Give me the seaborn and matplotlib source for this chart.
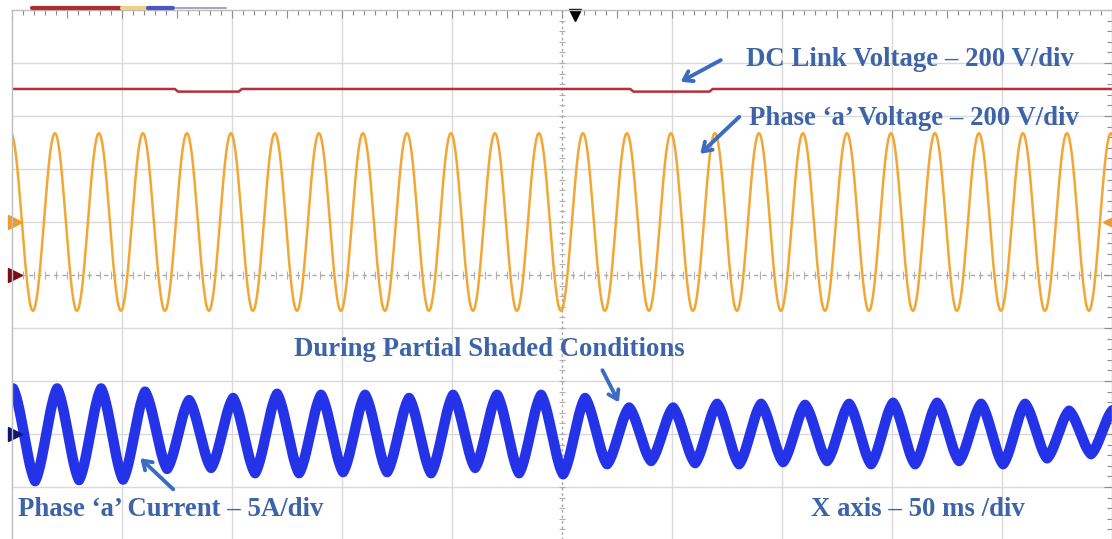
import numpy as np
import pandas as pd
import matplotlib.pyplot as plt
import seaborn as sns
from matplotlib.lines import Line2D

# scope settings
ms_per_div = 50
v_per_div = 200
a_per_div = 5
period_ms = 20          # 50 Hz grid
n_xdiv, n_ydiv = 10, 10

# zero reference of each channel (divisions from screen centre)
ref_dc = 0
ref_va = 1
ref_ia = -3

# DC link voltage (V) and its two small sags (ms)
dc_level = 702
dc_sag = 692
dc_sag_start = [74, 281]
dc_sag_end = [103, 317]

# phase 'a' voltage
va_peak = 335           # V
va_first_peak = -0.5    # ms

# phase 'a' current: positive / negative peak of each cycle (A)
ia_pos = [4.3, 4.3, 4.3, 4.0, 3.2, 3.4, 3.8, 3.7, 3.7, 3.4, 3.7, 3.7, 3.7,
          3.4, 2.5, 2.5, 2.85, 2.85, 2.75, 2.85, 2.95, 2.95, 2.85, 2.85, 2.2, 2.3]
ia_neg = [-4.45, -4.35, -4.3, -3.3, -3.2, -3.7, -3.7, -3.6, -3.6, -3.7, -3.2,
          -3.7, -3.8, -2.85, -2.55, -2.75, -2.85, -2.65, -2.55, -2.85, -2.85,
          -2.55, -2.85, -2.3, -1.9]
ia_first_peak = 0.5     # ms

red = "#b5303a"
orange = "#f2a735"
blue = "#2433e8"
note_blue = "#3d64a8"
grid_c = "#d9d9d9"


def half_waves(t0, values, n=40, sharp=0.0):
    # join successive peaks with half-cosine swings (sharp > 0 makes tips pointier)
    ts, ys = [], []
    for i in range(len(values) - 1):
        s = np.linspace(0, 1, n, endpoint=False)
        a, b = values[i], values[i + 1]
        shape = (1 - sharp) * np.cos(np.pi * s) + sharp * (1 - 2 * s)
        ts.append(t0 + (i + s) * period_ms / 2)
        ys.append((a + b) / 2 + (a - b) / 2 * shape)
    return np.concatenate(ts), np.concatenate(ys)


# phase voltage trace
va_ext = [va_peak * (-1) ** (k + 1) for k in range(54)]
t_va, v_va = half_waves(va_first_peak - period_ms / 2, va_ext)
va_df = pd.DataFrame({"t": t_va, "div": v_va / v_per_div + ref_va})

# phase current trace
ia_ext = [ia_neg[0]]
for p, q in zip(ia_pos, ia_neg):
    ia_ext += [p, q]
ia_ext.append(ia_pos[-1])
t_ia, v_ia = half_waves(ia_first_peak - period_ms / 2, ia_ext, sharp=0.45)
ia_df = pd.DataFrame({"t": t_ia, "div": v_ia / a_per_div + ref_ia})

# dc link trace
t_dc, v_dc = [0], [dc_level]
for s, e in zip(dc_sag_start, dc_sag_end):
    t_dc += [s, s + 1.5, e, e + 1.5]
    v_dc += [dc_level, dc_sag, dc_sag, dc_level]
t_dc.append(ms_per_div * n_xdiv)
v_dc.append(dc_level)
dc_df = pd.DataFrame({"t": t_dc, "div": np.array(v_dc) / v_per_div + ref_dc})

sns.set_style("white")
fig = plt.figure(figsize=(11.12, 5.39), dpi=100)
ax = fig.add_axes([12 / 1112, -1 / 539, 1100 / 1112, 530 / 539])

t_end = ms_per_div * n_xdiv
ax.set_xlim(0, t_end)
ax.set_ylim(-n_ydiv / 2, n_ydiv / 2)

# graticule
for k in range(1, n_xdiv):
    if k != n_xdiv // 2:
        ax.axvline(k * ms_per_div, color=grid_c, lw=1, zorder=0)
for k in range(-n_ydiv // 2 + 1, n_ydiv // 2):
    if k != 0:
        ax.axhline(k, color=grid_c, lw=1, zorder=0)
ax.axvline(t_end / 2, color="#a8a8a8", lw=1, ls=(0, (2, 2)), zorder=0)
ax.axhline(0, color="#a8a8a8", lw=1, ls=(0, (3, 3)), zorder=0)
ax.vlines(np.arange(0, t_end + 0.1, ms_per_div / 10), -0.07, 0.07,
          color="#b0b0b0", lw=0.8, zorder=0)
ax.hlines(np.arange(-5, 5.01, 0.2), t_end / 2 - 1.5, t_end / 2 + 1.5,
          color="#b0b0b0", lw=0.8, zorder=0)

ax.set_xticks(np.arange(0, t_end + 0.1, ms_per_div / 2))
ax.set_xticks(np.arange(0, t_end + 0.1, ms_per_div / 10), minor=True)
ax.set_yticks(np.arange(-5, 5.01, 1))
ax.set_yticks(np.arange(-5, 5.01, 0.2), minor=True)
ax.tick_params(which="both", direction="in", top=True, right=True,
               labelbottom=False, labelleft=False, color="#8c8c8c", width=0.8)
ax.tick_params(which="major", length=6)
ax.tick_params(which="minor", length=3.5)
for sp in ax.spines.values():
    sp.set_color("#bdbdbd")
    sp.set_linewidth(1)

# traces
sns.lineplot(data=dc_df, x="t", y="div", ax=ax, color=red, lw=1.8,
             estimator=None, sort=False)
sns.lineplot(data=va_df, x="t", y="div", ax=ax, color=orange, lw=1.8,
             estimator=None, sort=False)
sns.lineplot(data=ia_df, x="t", y="div", ax=ax, color=blue, lw=7.5,
             estimator=None, sort=False, solid_joinstyle="round")
ax.set_xlabel("")
ax.set_ylabel("")

# channel reference markers and trigger marker
ax.plot([1.2], [ref_va], marker=">", ms=10, color="#ef9a2c", clip_on=False)
ax.plot([1.2], [ref_dc], marker=">", ms=10, color="#7d0d12", clip_on=False)
ax.plot([1.2], [ref_ia], marker=">", ms=10, color="#141470", clip_on=False)
ax.plot([t_end - 1], [ref_va], marker="<", ms=10, color="#ef9a2c", clip_on=False)
ax.plot([256], [4.9], marker="v", ms=9, color="black", clip_on=False)

# status strip at the very top of the screen
for x0, x1, c, w in [(32, 120, "#b22a32", 3), (122, 146, "#f3cf84", 3),
                     (148, 173, "#4a56c8", 3), (176, 226, "#a8a8b8", 1.5)]:
    fig.add_artist(Line2D([x0 / 1112, x1 / 1112], [1 - 8 / 539] * 2,
                          color=c, lw=w))

# annotations
note_kw = dict(color=note_blue, fontsize=19.3, fontweight="bold",
               family="Liberation Serif", va="center", ha="left")
arrow_kw = dict(arrowstyle="->,head_length=0.6,head_width=0.4",
                color="#3b6cc0", lw=2.8)

ax.annotate("", xy=(302.8, 3.62), xytext=(323.3, 4.08), arrowprops=arrow_kw)
ax.text(333.8, 4.06, "DC Link Voltage – 200 V/div", **note_kw)
ax.annotate("", xy=(311.9, 2.25), xytext=(331.5, 3.02), arrowprops=arrow_kw)
ax.text(335.2, 2.96, "Phase ‘a’ Voltage – 200 V/div", **note_kw)
ax.annotate("", xy=(276.4, -2.45), xytext=(267.8, -1.75), arrowprops=arrow_kw)
ax.text(128, -1.41, "During Partial Shaded Conditions", **note_kw)
ax.annotate("", xy=(57.4, -3.42), xytext=(74.2, -4.08), arrowprops=arrow_kw)
ax.text(2.7, -4.43, "Phase ‘a’ Current – 5A/div", **note_kw)
ax.text(363.4, -4.43, "X axis – 50 ms /div", **note_kw)

fig.savefig("out.png", dpi=100)
